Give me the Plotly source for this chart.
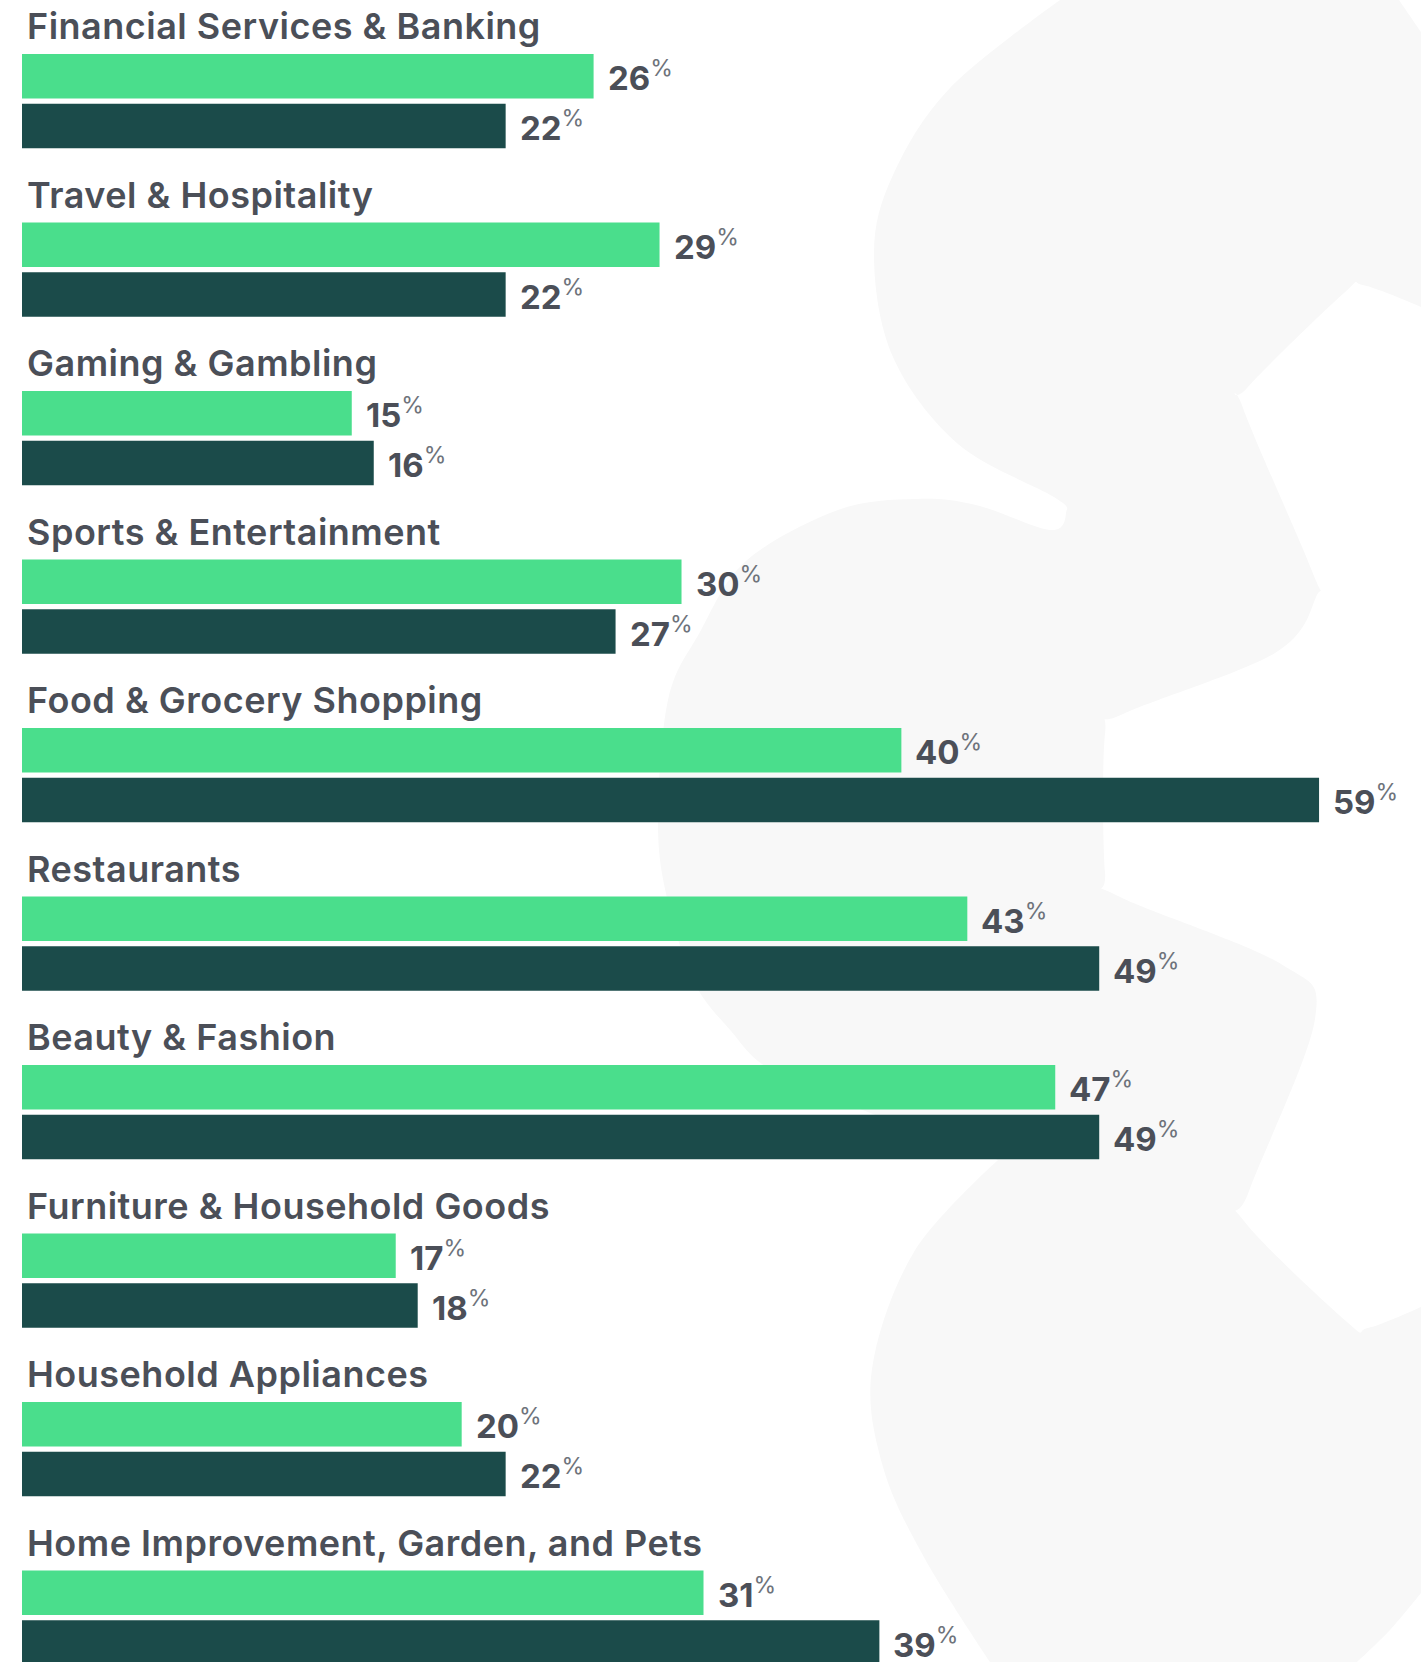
import plotly.graph_objects as go

# ---- data -------------------------------------------------------------
categories = [
    "Financial Services & Banking",
    "Travel & Hospitality",
    "Gaming & Gambling",
    "Sports & Entertainment",
    "Food & Grocery Shopping",
    "Restaurants",
    "Beauty & Fashion",
    "Furniture & Household Goods",
    "Household Appliances",
    "Home Improvement, Garden, and Pets",
]
share_light = [26, 29, 15, 30, 40, 43, 47, 17, 20, 31]
share_dark = [22, 22, 16, 27, 59, 49, 49, 18, 22, 39]

# ---- style ------------------------------------------------------------
GREEN = "#4ADE8C"
DARK = "#1B4B4A"
TEXT = "#4B4F58"
PCT = "#6E737B"
BG_SHAPE = "#F8F8F8"
FONT = "Inter"

W, H = 1421, 1662
ML, MR = 22, 14
PLOT_W = W - ML - MR
X_MAX = 63
ROW_PX = 168.5            # vertical distance between category groups
FIRST_CENTER_PX = 101.2   # centre of the first group from the top

bar_w = 44.5 / ROW_PX
half_gap = 2.65 / ROW_PX
light_center = -(half_gap + bar_w / 2)
dark_center = half_gap + bar_w / 2

y_top = -FIRST_CENTER_PX / ROW_PX
y_bottom = y_top + H / ROW_PX
y_pos = list(range(len(categories)))

fig = go.Figure()
fig.add_trace(go.Bar(
    y=y_pos, x=share_light, orientation="h", name="Light",
    width=bar_w, offset=-(bar_w + half_gap),
    marker=dict(color=GREEN, line=dict(width=0)), hoverinfo="skip",
))
fig.add_trace(go.Bar(
    y=y_pos, x=share_dark, orientation="h", name="Dark",
    width=bar_w, offset=half_gap,
    marker=dict(color=DARK, line=dict(width=0)), hoverinfo="skip",
))

annotations = []
for i, name in enumerate(categories):
    annotations.append(dict(
        x=0, y=i - 0.445, xref="x", yref="y",
        text=f"<span style='letter-spacing:0.5px'>{name}</span>",
        showarrow=False, xanchor="left", yanchor="middle", xshift=3,
        font=dict(family=FONT, size=36, color=TEXT, weight=600),
    ))


def value_text(v):
    return (f"{v}<sup><span style='font-weight:400;color:{PCT}'>%</span></sup>")


for i, (a, b) in enumerate(zip(share_light, share_dark)):
    for v, yc in ((a, light_center), (b, dark_center)):
        annotations.append(dict(
            x=v, y=i + yc, xref="x", yref="y", text=value_text(v),
            showarrow=False, xanchor="left", yanchor="middle", xshift=12,
            font=dict(family=FONT, size=33, color=TEXT, weight=700),
        ))

# ---- decorative background emblem (pixel outline, smoothed) ------------
# each point: x px, y px, sharp-corner flag
outline = [
    (1060, 0, 1), (1399, 0, 1), (1421, 32, 1),
    (1421, 307, 1), (1363, 285, 0), (1344, 293, 0), (1247, 388, 0),
    (1243, 408, 0), (1312, 571, 0), (1316, 597, 0), (1275, 653, 0),
    (1123, 714, 0), (1105, 734, 0), (1105, 872, 0), (1118, 896, 0),
    (1281, 964, 0), (1315, 1019, 0), (1249, 1191, 0), (1244, 1221, 0),
    (1347, 1322, 0), (1368, 1328, 0), (1421, 1307, 1),
    (1421, 1593, 1), (1390, 1630, 0), (1357, 1662, 1),
    (990, 1662, 1), (925, 1559, 0), (883, 1467, 0), (872, 1369, 0),
    (914, 1252, 0), (998, 1160, 1), (930, 1135, 0), (850, 1105, 0),
    (768, 1068, 0), (731, 1031, 0), (694, 982, 0), (668, 902, 0),
    (658, 823, 0), (668, 700, 0), (700, 632, 0), (746, 561, 0),
    (838, 510, 0), (916, 499, 0), (976, 505, 0), (1050, 530, 0),
    (1066, 513, 0), (1054, 497, 0), (958, 444, 0), (893, 357, 0),
    (874, 254, 0), (893, 175, 0), (950, 88, 0),
]


def to_paper(px, py):
    return (px - ML) / PLOT_W, 1 - py / H


def smooth_closed_path(pts):
    n = len(pts)
    tang = []
    for i in range(n):
        x0, y0, _ = pts[i - 1]
        x2, y2, _ = pts[(i + 1) % n]
        if pts[i][2]:
            tang.append((0.0, 0.0))
        else:
            tang.append(((x2 - x0) / 6, (y2 - y0) / 6))
    px, py = to_paper(pts[0][0], pts[0][1])
    d = f"M {px:.5f},{py:.5f}"
    for i in range(n):
        j = (i + 1) % n
        x1, y1 = pts[i][0] + tang[i][0], pts[i][1] + tang[i][1]
        x2, y2 = pts[j][0] - tang[j][0], pts[j][1] - tang[j][1]
        c1 = to_paper(x1, y1)
        c2 = to_paper(x2, y2)
        e = to_paper(pts[j][0], pts[j][1])
        d += (f" C {c1[0]:.5f},{c1[1]:.5f} {c2[0]:.5f},{c2[1]:.5f}"
              f" {e[0]:.5f},{e[1]:.5f}")
    return d + " Z"


shapes = [dict(
    type="path", xref="paper", yref="paper", path=smooth_closed_path(outline),
    fillcolor=BG_SHAPE, line=dict(width=0), layer="below",
)]

fig.update_layout(
    width=W, height=H,
    margin=dict(l=ML, r=MR, t=0, b=0, pad=0),
    paper_bgcolor="white", plot_bgcolor="rgba(0,0,0,0)",
    barmode="overlay", showlegend=False,
    xaxis=dict(range=[0, X_MAX], visible=False, fixedrange=True),
    yaxis=dict(range=[y_bottom, y_top], visible=False, fixedrange=True),
    annotations=annotations, shapes=shapes,
)

fig.write_html("out.html")
